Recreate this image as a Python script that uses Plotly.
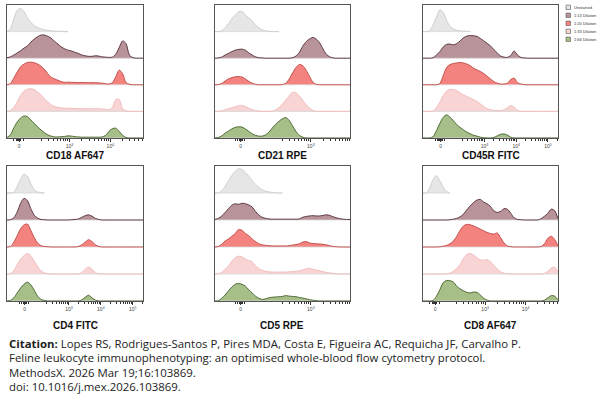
import math
import plotly.graph_objects as go

# display channel (0-100 across each panel) at which the histogram heights were read
channel = [0, 2.5, 5, 7.5, 10, 12.5, 15, 17.5, 20, 22.5, 25, 27.5, 30, 32.5, 35, 37.5, 40,
           42.5, 45, 47.5, 50, 52.5, 55, 57.5, 60, 62.5, 65, 67.5, 70, 72.5, 75, 77.5, 80,
           82.5, 85, 87.5, 90, 92.5, 95, 97.5, 100]

samples = ["Unstained", "1:13 Dilution", "1:20 Dilution", "1:33 Dilution", "1:66 Dilution"]
fills = ["#e6e6e6", "#b8939a", "#f4827f", "#f9d4d4", "#a6bf88"]
edges = ["#cfcfcf", "#5e3940", "#c2504c", "#f0bdbd", "#4f6a36"]

# tick labels of the biexponential axes
tick_text = ["0", "10<sup>3</sup>", "10<sup>4</sup>", "10<sup>5</sup>"]
af647_ticks = [9, 46, 76]
rpe_ticks = [19, 71]
fitc_ticks = [13, 45.5, 69, 92.5]

# histogram heights, % of one ridge, top ridge to bottom ridge
cd18 = [
    [0, 10, 48, 80, 87, 75, 52, 35, 22, 15, 10, 7, 5, 3, 2, 1, 1, 0, 0],
    [2, 5, 12, 20, 28, 38, 46, 60, 72, 81, 87, 87, 82, 75, 63, 53, 42, 35, 30, 27,
     22, 18, 12, 9, 7, 7, 9, 8, 5, 4, 3, 4, 15, 40, 65, 55, 12, 2, 0, 0, 0],
    [0, 5, 25, 48, 68, 78, 84, 85, 83, 78, 70, 58, 42, 28, 22, 17, 12, 9, 10, 9,
     9, 8, 9, 8, 8, 8, 8, 7, 6, 4, 3, 8, 30, 55, 42, 8, 2, 0, 0, 0, 0],
    [0, 3, 15, 35, 60, 76, 83, 85, 82, 72, 62, 48, 35, 25, 18, 15, 13, 12, 12, 11,
     11, 10, 10, 10, 10, 10, 10, 10, 9, 8, 6, 15, 45, 45, 10, 2, 0, 0, 0, 0, 0],
    [2, 12, 38, 60, 75, 83, 80, 68, 55, 42, 30, 20, 12, 7, 4, 4, 5, 6, 8, 7,
     5, 4, 3, 3, 3, 3, 3, 3, 4, 10, 25, 35, 37, 25, 10, 2, 0, 0, 0, 0, 0],
]
cd21 = [
    [0, 0, 3, 15, 30, 48, 62, 74, 76, 62, 52, 40, 25, 14, 6, 3, 1, 0, 0, 0],
    [0, 1, 4, 12, 18, 25, 30, 33, 34, 30, 20, 12, 5, 2, 1, 0, 0, 0, 0, 0,
     0, 0, 0, 2, 8, 22, 45, 62, 72, 78, 72, 58, 35, 15, 5, 1, 0, 0, 0, 0, 0],
    [0, 1, 5, 14, 22, 27, 30, 31, 29, 22, 13, 6, 2, 0, 0, 0, 0, 0, 0, 0,
     1, 6, 22, 45, 65, 76, 72, 55, 32, 10, 2, 0, 0, 0, 0, 0, 0, 0, 0, 0, 0],
    [0, 0, 2, 6, 10, 14, 17, 21, 22, 18, 12, 7, 3, 1, 0, 0, 0, 1, 6, 15,
     28, 42, 58, 72, 70, 58, 42, 25, 12, 4, 0, 0, 0, 0, 0, 0, 0, 0, 0, 0, 0],
    [0, 2, 8, 18, 26, 34, 40, 42, 41, 34, 25, 16, 10, 7, 7, 12, 22, 38, 52, 63,
     72, 77, 66, 45, 25, 10, 3, 0, 0, 0, 0, 0, 0, 0, 0, 0, 0, 0, 0, 0, 0],
]
cd45r = [
    [0, 0, 5, 25, 55, 82, 72, 42, 20, 10, 5, 3, 2, 1, 0],
    [0, 0, 0, 2, 12, 25, 42, 52, 53, 50, 55, 65, 77, 83, 85, 84, 82, 74, 65, 56,
     46, 32, 20, 8, 4, 3, 10, 27, 12, 3, 1, 0, 0, 0, 0, 0, 0, 0, 0, 0, 0],
    [0, 0, 0, 0, 0, 5, 35, 65, 76, 80, 82, 84, 82, 78, 72, 62, 56, 50, 42, 32,
     22, 12, 6, 3, 3, 6, 20, 25, 8, 3, 1, 0, 0, 0, 0, 0, 0, 0, 0, 0, 0],
    [0, 0, 0, 2, 15, 35, 60, 76, 83, 82, 78, 70, 62, 56, 50, 44, 37, 28, 18, 10,
     6, 4, 3, 3, 6, 14, 22, 16, 4, 1, 0, 0, 0, 0, 0, 0, 0, 0, 0, 0, 0],
    [0, 0, 0, 5, 28, 55, 78, 87, 78, 65, 50, 40, 30, 22, 16, 10, 7, 3, 1, 0,
     0, 2, 8, 14, 15, 11, 3, 0, 0, 0, 0, 0, 0, 0, 0, 0, 0, 0, 0, 0, 0],
]
cd4 = [
    [0, 0, 3, 25, 50, 70, 62, 35, 12, 4, 1, 0],
    [0, 1, 8, 30, 62, 80, 72, 42, 18, 7, 2, 1, 0, 0, 0, 0, 0, 0, 0, 1,
     2, 4, 10, 16, 19, 14, 6, 2, 0, 0, 0, 0, 0, 0, 0, 0, 0, 0, 0, 0, 0],
    [0, 2, 18, 42, 68, 82, 85, 62, 35, 15, 5, 2, 1, 0, 0, 0, 0, 0, 0, 0,
     0, 2, 8, 18, 27, 20, 8, 2, 0, 0, 0, 0, 0, 0, 0, 0, 0, 0, 0, 0, 0],
    [0, 1, 12, 35, 55, 68, 76, 68, 48, 28, 12, 4, 1, 0, 0, 0, 0, 0, 0, 0,
     0, 0, 5, 18, 26, 18, 5, 1, 0, 0, 0, 0, 0, 0, 0, 0, 0, 0, 0, 0, 0],
    [0, 2, 12, 30, 48, 62, 70, 60, 40, 18, 6, 2, 0, 0, 0, 0, 0, 0, 0, 0,
     0, 0, 4, 14, 21, 12, 3, 0, 0, 0, 0, 0, 0, 0, 0, 0, 0, 0, 0, 0, 0],
]
cd5 = [
    [0, 0, 8, 25, 45, 65, 80, 90, 87, 77, 62, 47, 32, 20, 12, 7, 4, 2, 1, 0, 0],
    [2, 6, 15, 28, 42, 55, 60, 58, 62, 60, 56, 48, 32, 18, 10, 6, 4, 3, 3, 3,
     3, 3, 3, 3, 3, 4, 10, 13, 15, 16, 15, 15, 17, 19, 17, 12, 8, 5, 3, 2, 2],
    [0, 2, 10, 22, 30, 40, 50, 65, 62, 50, 42, 30, 20, 12, 8, 6, 5, 4, 4, 4,
     4, 4, 5, 7, 9, 12, 18, 20, 15, 13, 12, 11, 10, 8, 5, 2, 1, 0, 0, 0, 0],
    [0, 1, 6, 18, 30, 48, 60, 66, 63, 55, 50, 45, 30, 20, 14, 10, 8, 7, 7, 7,
     7, 7, 8, 9, 10, 12, 15, 19, 21, 17, 15, 12, 9, 6, 4, 2, 1, 0, 0, 0, 0],
    [0, 1, 10, 22, 38, 52, 62, 65, 62, 55, 42, 30, 18, 10, 6, 8, 12, 14, 15, 16,
     17, 20, 18, 17, 16, 13, 11, 8, 5, 3, 1, 0, 0, 0, 0, 0, 0, 0, 0, 0, 0],
]
cd8 = [
    [0, 0, 20, 50, 65, 45, 22, 6, 0],
    [0, 0, 0, 0, 0, 0, 0, 0, 1, 3, 6, 12, 22, 38, 52, 65, 74, 76, 66, 60,
     50, 34, 28, 32, 42, 40, 25, 8, 2, 1, 0, 0, 0, 0, 0, 5, 14, 25, 40, 35, 5],
    [0, 0, 0, 0, 0, 1, 3, 6, 12, 22, 40, 62, 78, 84, 82, 78, 72, 66, 60, 54,
     50, 48, 52, 35, 15, 4, 1, 0, 0, 0, 0, 0, 0, 0, 0, 2, 12, 32, 40, 28, 4],
    [0, 0, 0, 0, 0, 0, 0, 1, 3, 10, 22, 35, 58, 72, 76, 70, 60, 52, 51, 53,
     45, 32, 18, 8, 3, 1, 0, 0, 0, 0, 0, 0, 0, 0, 0, 0, 2, 10, 22, 25, 8],
    [0, 0, 0, 2, 18, 42, 68, 76, 75, 70, 55, 45, 38, 32, 30, 33, 32, 22, 10, 3,
     0, 0, 0, 0, 0, 0, 0, 0, 0, 0, 0, 0, 0, 0, 0, 0, 3, 12, 20, 18, 5],
]

citation_lines = [
    "<b>Citation:</b> Lopes RS, Rodrigues-Santos P, Pires MDA, Costa E, Figueira AC, "
    "Requicha JF, Carvalho P.",
    "Feline leukocyte immunophenotyping: an optimised whole-blood flow cytometry protocol.",
    "MethodsX. 2026 Mar 19;16:103869.",
    "doi: 10.1016/j.mex.2026.103869.",
]

panels = [
    ("CD18 AF647", af647_ticks, cd18),
    ("CD21 RPE", rpe_ticks, cd21),
    ("CD45R FITC", fitc_ticks, cd45r),
    ("CD4 FITC", fitc_ticks, cd4),
    ("CD5 RPE", rpe_ticks, cd5),
    ("CD8 AF647", af647_ticks, cd8),
]

col_x = [(0.0117, 0.2383), (0.3583, 0.5833), (0.705, 0.93)]
row_y = [(0.6576, 0.9876), (0.2531, 0.5881)]
title_y = [0.615, 0.193]


def minor_ticks(major):
    # decade ticks of the log part plus a crowd of ticks round zero
    zero = major[0]
    decade = major[2] - major[1] if len(major) > 2 else 30
    out = [zero - 4, zero - 2.2, zero - 1.2, zero - 0.6, zero + 0.6, zero + 1.2, zero + 3]
    for start in major[1:] + [major[-1] + decade]:
        for k in range(2, 10):
            pos = start - decade + decade * math.log10(k)
            if zero + 5 < pos < 100:
                out.append(pos)
    return out


fig = go.Figure()
layout = {}
annotations = []

for p, (name, ticks, ridges) in enumerate(panels):
    row, col = divmod(p, 3)
    suffix = "" if p == 0 else str(p + 1)
    xa, ya = "x" + suffix, "y" + suffix

    for i, heights in enumerate(ridges):
        base = 4 - i
        xs = channel[:len(heights)]
        fig.add_trace(go.Scatter(
            x=xs, y=[base] * len(xs), mode="lines",
            line=dict(color="#d6d6d6", width=0.8),
            xaxis=xa, yaxis=ya, showlegend=False, hoverinfo="skip"))
        fig.add_trace(go.Scatter(
            x=xs, y=[base + h / 100 for h in heights], mode="lines",
            line=dict(color=edges[i], width=1, shape="spline", smoothing=0.8),
            fill="tonexty", fillcolor=fills[i], name=samples[i],
            xaxis=xa, yaxis=ya, showlegend=False))

    layout["xaxis" + suffix] = dict(
        domain=col_x[col], range=[0, 100], anchor=ya,
        showline=True, mirror=True, linecolor="#555", linewidth=1,
        showgrid=False, zeroline=False,
        ticks="outside", ticklen=3, tickwidth=0.8, tickcolor="#333",
        tickvals=ticks, ticktext=tick_text[:len(ticks)],
        tickfont=dict(size=5, color="#444", family="Liberation Sans"),
        minor=dict(tickvals=minor_ticks(ticks), ticks="outside", ticklen=1.8,
                   tickwidth=0.6, tickcolor="#333", showgrid=False),
    )
    layout["yaxis" + suffix] = dict(
        domain=row_y[row], range=[0, 5], anchor=xa,
        showline=True, mirror=True, linecolor="#555", linewidth=1,
        showgrid=False, zeroline=False, showticklabels=False, ticks="",
    )
    annotations.append(dict(
        text="<b>" + name + "</b>", x=sum(col_x[col]) / 2, y=title_y[row],
        xref="paper", yref="paper", showarrow=False, xanchor="center", yanchor="middle",
        font=dict(family="Liberation Sans", size=10, color="#111")))

# small key at the top right
shapes = []
for i, s in enumerate(samples):
    yc = 1 - (7.3 + 8 * i) / 403
    shapes.append(dict(type="rect", xref="paper", yref="paper",
                       x0=566 / 600, x1=570.5 / 600, y0=yc - 2.2 / 403, y1=yc + 2.2 / 403,
                       fillcolor=fills[i], line=dict(color="#555", width=0.6)))
    annotations.append(dict(text=s, x=571.5 / 600, y=yc, xref="paper", yref="paper",
                            showarrow=False, xanchor="left", yanchor="middle",
                            font=dict(family="Liberation Sans", size=4, color="#333")))

for k, line in enumerate(citation_lines):
    annotations.append(dict(text=line, x=7 / 600, y=1 - (343 + 14.5 * k) / 403,
                            xref="paper", yref="paper", showarrow=False,
                            xanchor="left", yanchor="middle", align="left",
                            font=dict(family="Open Sans", size=11.4, color="#222")))

fig.update_layout(
    width=600, height=403, autosize=False,
    margin=dict(l=0, r=0, t=0, b=0),
    paper_bgcolor="white", plot_bgcolor="white",
    annotations=annotations, shapes=shapes,
    **layout,
)

fig.write_html("out.html", config={"displayModeBar": False},
               post_script="document.body.style.margin = '0px';")
